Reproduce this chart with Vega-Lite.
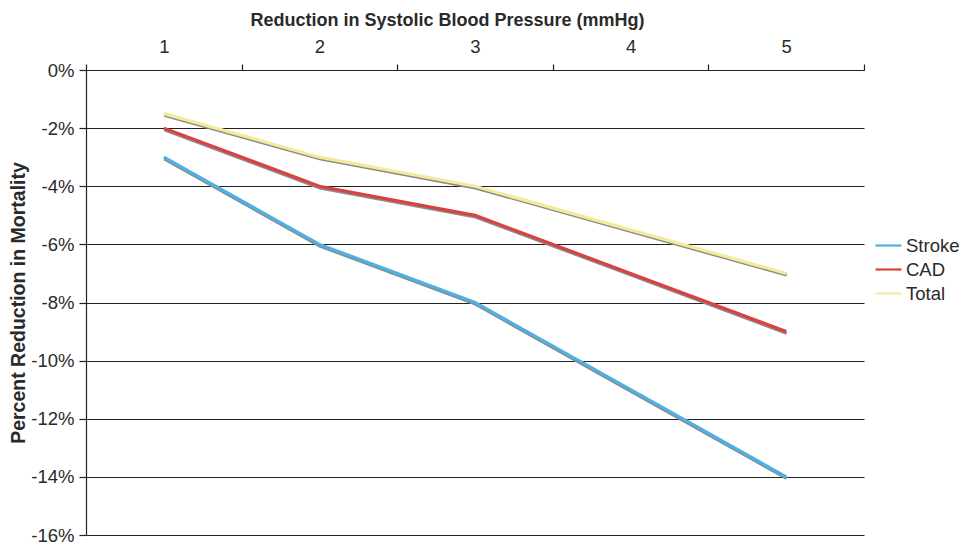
{
  "$schema": "https://vega.github.io/schema/vega-lite/v6.json",
  "width": 778,
  "height": 465,
  "autosize": {"type": "none"},
  "padding": {"left": 86, "top": 70, "right": 102, "bottom": 10},
  "background": "white",
  "config": {
    "view": {"stroke": null},
    "font": "Liberation Sans",
    "axis": {"labelFont": "Liberation Sans", "titleFont": "Liberation Sans", "labelColor": "#2a2a2a", "titleColor": "#2a2a2a", "labelFontSize": 18.5, "titleFontSize": 18, "titleFontWeight": "bold", "domainColor": "#222", "tickColor": "#222", "gridColor": "#222", "domainWidth": 1.2, "tickWidth": 1.2, "gridWidth": 1.2, "gridOpacity": 1},
    "legend": {"labelFont": "Liberation Sans", "labelFontSize": 18.5, "labelColor": "#2a2a2a"}
  },
  "data": {
    "values": [
      {"bp": "1", "series": "Stroke", "value": -0.03},
      {"bp": "2", "series": "Stroke", "value": -0.06},
      {"bp": "3", "series": "Stroke", "value": -0.08},
      {"bp": "4", "series": "Stroke", "value": -0.11},
      {"bp": "5", "series": "Stroke", "value": -0.14},
      {"bp": "1", "series": "CAD", "value": -0.02},
      {"bp": "2", "series": "CAD", "value": -0.04},
      {"bp": "3", "series": "CAD", "value": -0.05},
      {"bp": "4", "series": "CAD", "value": -0.07},
      {"bp": "5", "series": "CAD", "value": -0.09},
      {"bp": "1", "series": "Total", "value": -0.015},
      {"bp": "2", "series": "Total", "value": -0.03},
      {"bp": "3", "series": "Total", "value": -0.04},
      {"bp": "4", "series": "Total", "value": -0.055},
      {"bp": "5", "series": "Total", "value": -0.07}
    ]
  },
  "encoding": {
    "x": {
      "field": "bp", "type": "ordinal", "bandPosition": 0.5,
      "scale": {"type": "band", "paddingInner": 0, "paddingOuter": 0},
      "axis": {"orient": "top", "title": "Reduction in Systolic Blood Pressure (mmHg)", "titleX": 361, "labelAngle": 0, "tickBand": "extent", "tickSize": 6, "labelPadding": 8, "titlePadding": 8, "grid": false}
    },
    "y": {
      "field": "value", "type": "quantitative",
      "scale": {"domain": [-0.16, 0], "nice": false},
      "axis": {"title": "Percent Reduction in Mortality", "titleFontSize": 19.5, "values": [0, -0.02, -0.04, -0.06, -0.08, -0.1, -0.12, -0.14, -0.16], "format": ".0%", "labelExpr": "replace(datum.label, '\u2212', '-')", "tickSize": 7, "labelPadding": 5, "titlePadding": 2, "grid": true}
    }
  },
  "layer": [
    {
      "mark": {"type": "line", "color": "#8a8a8a", "strokeWidth": 3.2, "yOffset": 1.6, "xOffset": 0.5},
      "encoding": {"detail": {"field": "series"}}
    },
    {
      "mark": {"type": "line", "strokeWidth": 3.2},
      "encoding": {
        "color": {
          "field": "series", "type": "nominal",
          "scale": {"domain": ["Stroke", "CAD", "Total"], "range": ["#4fb0e4", "#d9423f", "#f3ea9c"]},
          "legend": {"title": null, "orient": "none", "legendX": 788, "legendY": 161, "symbolType": "stroke", "symbolSize": 676, "symbolStrokeWidth": 2.2, "rowPadding": 0, "labelOffset": 3}
        }
      }
    }
  ]
}
